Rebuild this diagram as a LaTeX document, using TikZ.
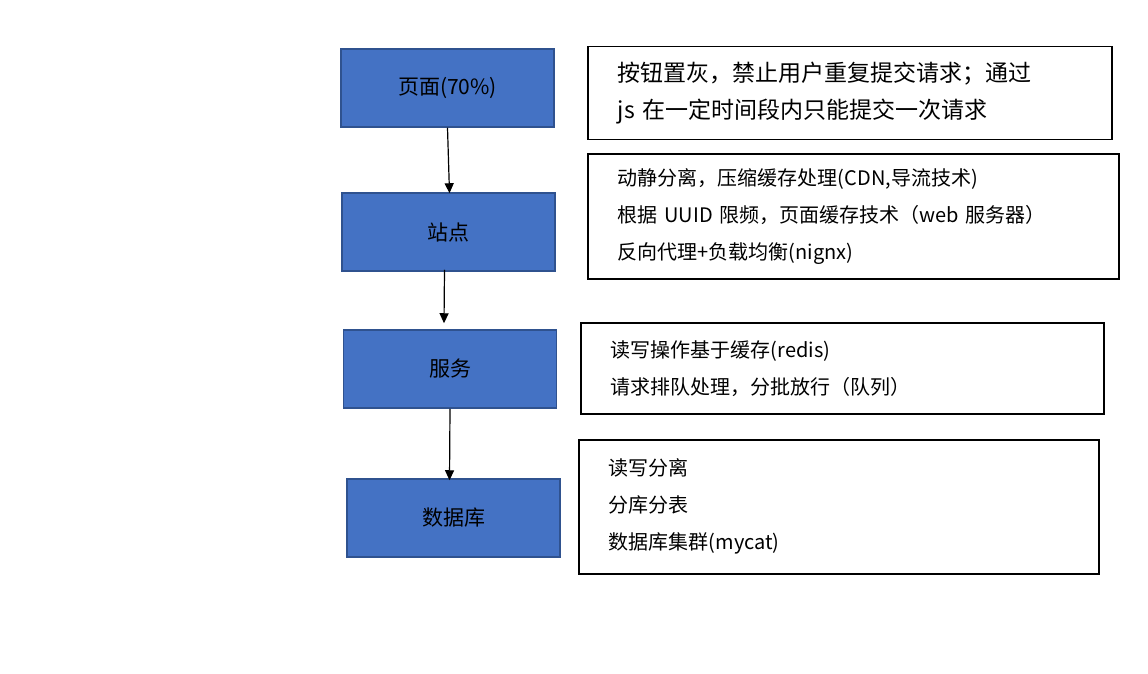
\documentclass[tikz,border=0pt]{standalone}
\usepackage{fontspec}
\setmainfont{Noto Sans CJK SC}
\usetikzlibrary{arrows.meta,positioning}
\definecolor{stageblue}{HTML}{4472C4}
\definecolor{stageedge}{HTML}{2F528F}
\begin{document}
\begin{tikzpicture}[x=1pt,y=-1pt,
  stage/.style={draw=stageedge, line width=1.5pt, fill=stageblue, minimum width=213pt, minimum height=78pt, font=\fontsize{21}{25}\selectfont},
  note/.style={draw, line width=1.5pt, anchor=north west, align=left, inner sep=0pt, font=\fontsize{20}{37}\selectfont},
  flow/.style={-{Triangle[length=10pt,width=9pt]}, line width=1.2pt}
]
\useasboundingbox (0,0) rectangle (1148,674);

\node[stage] (page) at (447.5,88) {页面(70\%)};
\node[stage] (site) at (448.5,232) {站点};
\node[stage] (serv) at (450,369) {服务};
\node[stage] (db) at (453.5,518) {数据库};

\node[note, minimum width=524pt, minimum height=93pt, text width=504pt, font=\fontsize{23}{37}\selectfont] (pagenote) at (587,46)
  {\hspace*{20pt}按钮置灰，禁止用户重复提交请求；通过\\\hspace*{20pt}js 在一定时间段内只能提交一次请求};
\node[note, minimum width=531pt, minimum height=125pt, text width=511pt] (sitenote) at (587,153)
  {\hspace*{20pt}动静分离，压缩缓存处理(CDN,导流技术)\\\hspace*{20pt}根据 UUID 限频，页面缓存技术（web 服务器）\\\hspace*{20pt}反向代理+负载均衡(nignx)};
\node[note, minimum width=523pt, minimum height=91pt, text width=503pt] (servnote) at (580,322)
  {\hspace*{20pt}读写操作基于缓存(redis)\\\hspace*{20pt}请求排队处理，分批放行（队列）};
\node[note, minimum width=520pt, minimum height=134pt, text width=500pt] (dbnote) at (578,439)
  {\hspace*{20pt}读写分离\\\hspace*{20pt}分库分表\\\hspace*{20pt}数据库集群(mycat)};

\draw[flow] (page.south) -- ([xshift=1pt,yshift=-1pt]site.north);
\draw[flow] ([xshift=-4pt,yshift=2pt]site.south) -- ([xshift=-6pt,yshift=6pt]serv.north);
\draw[flow] (serv.south) -- ([xshift=-4pt,yshift=-2pt]db.north);
\end{tikzpicture}
\end{document}
